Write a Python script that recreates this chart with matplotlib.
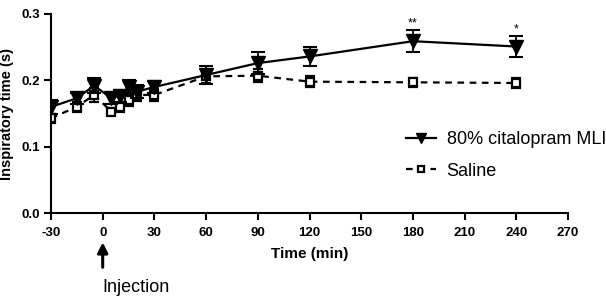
import matplotlib
matplotlib.use("Agg")
import matplotlib.pyplot as plt

plt.rcParams['font.family'] = ['Liberation Sans', 'DejaVu Sans']
plt.rcParams['axes.unicode_minus'] = False

time_min = [-30, -15, -5, 5, 10, 15, 20, 30, 60, 90, 120, 180, 240]
citalopram = [0.160, 0.173, 0.192, 0.173, 0.177, 0.190, 0.183, 0.190, 0.208, 0.226, 0.236, 0.259, 0.251]
citalopram_err = [0.010, 0.008, 0.011, 0.008, 0.009, 0.011, 0.010, 0.009, 0.013, 0.017, 0.014, 0.017, 0.016]
saline = [0.143, 0.160, 0.178, 0.153, 0.160, 0.171, 0.178, 0.178, 0.206, 0.207, 0.198, 0.197, 0.196]
saline_err = [0.007, 0.008, 0.010, 0.006, 0.008, 0.010, 0.009, 0.009, 0.010, 0.010, 0.008, 0.007, 0.008]
stars = {180: '**', 240: '*'}
xticks = [-30, 0, 30, 60, 90, 120, 150, 180, 210, 240, 270]
yticks = [0.0, 0.1, 0.2, 0.3]

fig = plt.figure(figsize=(6.06, 3.0), dpi=100)
ax = fig.add_axes([51/606, 1-213/300, (568-51)/606, (213-14)/300])

c1 = ax.errorbar(time_min, citalopram, yerr=citalopram_err, color='black', lw=1.6,
                 marker='v', markersize=9.5, markerfacecolor='black', capsize=5,
                 elinewidth=1.3, capthick=1.5, label='80% citalopram MLI', zorder=3)
c2 = ax.errorbar(time_min, saline, yerr=saline_err, color='black', lw=1.6,
                 linestyle=(0, (3, 2.5)), marker='s', markersize=5.5,
                 markerfacecolor='white', markeredgewidth=1.6, capsize=3.5,
                 elinewidth=1.3, capthick=1.5, label='Saline', zorder=2)

for t, s in stars.items():
    i = time_min.index(t)
    ax.text(t, citalopram[i] + citalopram_err[i] + 0.001, s, ha='center',
            va='bottom', fontsize=9)

ax.set_xlim(-30, 270)
ax.set_ylim(0, 0.3)
ax.set_xticks(xticks)
ax.set_yticks(yticks)
ax.set_yticklabels([f"{v:.1f}" for v in yticks])
for sp in ['top', 'right']:
    ax.spines[sp].set_visible(False)
for sp in ['left', 'bottom']:
    ax.spines[sp].set_linewidth(1.5)
ax.tick_params(direction='out', width=1.5, length=5, labelsize=9.5)
ax.tick_params(axis='x', pad=5)
ax.tick_params(axis='y', pad=3)
for lbl in ax.get_xticklabels() + ax.get_yticklabels():
    lbl.set_fontweight('bold')
ax.set_xlabel('Time (min)', fontsize=11, fontweight='bold', labelpad=6)
ax.set_ylabel('Inspiratory time (s)', fontsize=10.5, fontweight='bold', labelpad=5)

fig.legend([c1[0], c2[0]], ['80% citalopram MLI', 'Saline'],
           loc='upper left', bbox_to_anchor=(406/606, 1-131/300), frameon=False,
           fontsize=13, handlelength=1.65, handletextpad=0.6,
           labelspacing=0.82, borderpad=0, borderaxespad=0, markerscale=0.8)

ax.annotate('', xy=(0, -0.040), xytext=(0, -0.086), xycoords='data',
            textcoords='data', annotation_clip=False,
            arrowprops=dict(arrowstyle='-|>', color='black', lw=2.2,
                            mutation_scale=15))
ax.text(0, -0.1185, 'Injection', fontsize=13, ha='left', va='baseline',
        clip_on=False)

fig.savefig('out.png', dpi=100)
